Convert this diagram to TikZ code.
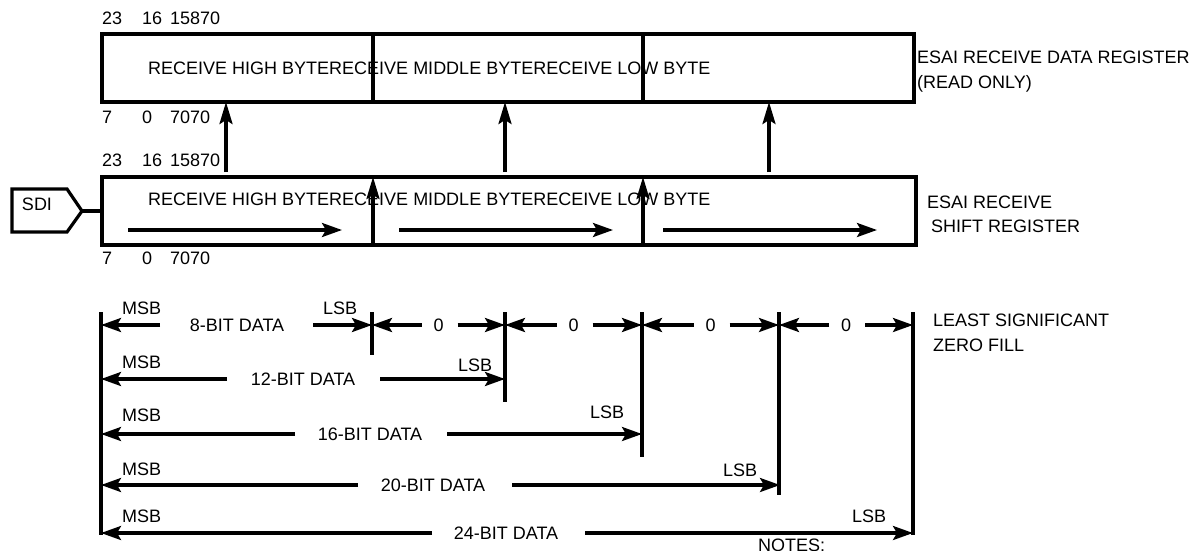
\documentclass[tikz,border=0pt]{standalone}
\usepackage{fontspec}
\setmainfont{Liberation Sans}
\usetikzlibrary{arrows.meta}
\begin{document}
\begin{tikzpicture}[x=1pt,y=-1pt,
  txt/.style={font=\fontsize{18}{20}\selectfont, inner sep=0pt, anchor=west, text height=12.9pt, text depth=0pt},
  ctxt/.style={txt, anchor=center},
  regbox/.style={draw, line width=3.4pt, minimum height=68pt, inner sep=0pt},
  conn/.style={line width=3.2pt},
  arr/.style={conn, -{Stealth[length=20pt,width=14pt,inset=4pt]}},
  uparr/.style={conn, -{Stealth[length=22pt,width=13pt,inset=4pt]}}]
\useasboundingbox (0,0) rectangle (1199,550);
\clip (0,0) rectangle (1199,550);

% ---------- receive data register ----------
\node[regbox, minimum width=812pt] (rdr) at (508,68) {};
\coordinate (d1t) at (373,34); \coordinate (d1b) at (373,102);
\coordinate (d2t) at (643,34); \coordinate (d2b) at (643,102);
\draw[conn] (d1t) -- (d1b);
\draw[conn] (d2t) -- (d2b);
\node[txt] (rdrtext) at (148,68) {RECEIVE HIGH BYTERECEIVE MIDDLE BYTERECEIVE LOW BYTE};
\node[txt] (ta23) at (102,18) {23};
\node[txt] (ta16) at (142,18) {16};
\node[txt] (ta15870) at (170,18) {15870};
\node[txt] (ba7) at (102,117) {7};
\node[txt] (ba0) at (142,117) {0};
\node[txt] (ba7070) at (170,117) {7070};
\node[txt] (rdrname1) at (917,57) {ESAI RECEIVE DATA REGISTER};
\node[txt] (rdrname2) at (917,82) {(READ ONLY)};

% ---------- receive shift register ----------
\node[regbox, minimum width=814pt] (rsr) at (509,211) {};
\coordinate (s1b) at (373,245); \coordinate (s1t) at (373,177);
\coordinate (s2b) at (643,245); \coordinate (s2t) at (643,177);
\node[txt] (rsrtext) at (148,199) {RECEIVE HIGH BYTERECEIVE MIDDLE BYTERECEIVE LOW BYTE};
\draw[uparr] (s1b) -- (s1t);
\draw[uparr] (s2b) -- (s2t);
\node[txt] (tb23) at (102,160) {23};
\node[txt] (tb16) at (142,160) {16};
\node[txt] (tb15870) at (170,160) {15870};
\node[txt] (bb7) at (102,258) {7};
\node[txt] (bb0) at (142,258) {0};
\node[txt] (bb7070) at (170,258) {7070};
\node[txt] (rsrname1) at (927,202) {ESAI RECEIVE};
\node[txt] (rsrname2) at (931,226) {SHIFT REGISTER};

% shift arrows inside
\coordinate (h1s) at (128,230); \coordinate (h1e) at (342,230);
\coordinate (h2s) at (399,230); \coordinate (h2e) at (613,230);
\coordinate (h3s) at (663,230); \coordinate (h3e) at (877,230);
\draw[arr] (h1s) -- (h1e);
\draw[arr] (h2s) -- (h2e);
\draw[arr] (h3s) -- (h3e);

% transfer arrows
\coordinate (u1s) at (226,172); \coordinate (u1e) at (226,102);
\coordinate (u2s) at (505,172); \coordinate (u2e) at (505,102);
\coordinate (u3s) at (769,172); \coordinate (u3e) at (769,102);
\draw[uparr] (u1s) -- (u1e);
\draw[uparr] (u2s) -- (u2e);
\draw[uparr] (u3s) -- (u3e);

% SDI input
\node[ctxt] (sdi) at (37,204) {SDI};
\draw[line width=3.2pt, line join=miter] (12,189) -- (67,189) -- (82,211) -- (67,232) -- (12,232) -- cycle;
\coordinate (sdip) at (82,211);
\draw[conn] (sdip) -- (rsr.west);

% ---------- data format section ----------
\coordinate (v0t) at (101,312); \coordinate (v0b) at (101,535);
\coordinate (v1t) at (372,312); \coordinate (v1b) at (372,355);
\coordinate (v2t) at (505,312); \coordinate (v2b) at (505,402);
\coordinate (v3t) at (642,312); \coordinate (v3b) at (642,457);
\coordinate (v4t) at (779,312); \coordinate (v4b) at (779,495);
\coordinate (v5t) at (913,312); \coordinate (v5b) at (913,535);
\foreach \v in {0,...,5} {\draw[conn] (v\v t) -- (v\v b);}

% row 1: 8-bit
\node[txt] (msb1) at (122,308) {MSB};
\node[txt] (lsb1) at (323,308) {LSB};
\node[ctxt] (dat8) at (237,325) {8-BIT DATA};
\coordinate (r1l) at (160,325); \coordinate (r1a) at (101,325);
\coordinate (r1r) at (313,325); \coordinate (r1b) at (372,325);
\draw[arr] (r1l) -- (r1a);
\draw[arr] (r1r) -- (r1b);
% zero fills
\foreach \a/\b/\n in {372/505/1, 505/642/2, 642/779/3, 779/913/4} {
  \node[ctxt] (zero\n) at ({(\a+\b)/2},325) {0};
  \coordinate (zl\n) at ({(\a+\b)/2-17},325);
  \coordinate (za\n) at (\a,325);
  \coordinate (zr\n) at ({(\a+\b)/2+19},325);
  \coordinate (zb\n) at (\b,325);
  \draw[arr] (zl\n) -- (za\n);
  \draw[arr] (zr\n) -- (zb\n);
}
\node[txt] (lszf1) at (933,320) {LEAST SIGNIFICANT};
\node[txt] (lszf2) at (933,345) {ZERO FILL};

% row 2: 12-bit
\node[txt] (msb2) at (122,362) {MSB};
\node[txt] (lsb2) at (458,365) {LSB};
\node[ctxt] (dat12) at (303,379) {12-BIT DATA};
\coordinate (r2l) at (227,379); \coordinate (r2a) at (101,379);
\coordinate (r2r) at (380,379); \coordinate (r2b) at (505,379);
\draw[arr] (r2l) -- (r2a);
\draw[arr] (r2r) -- (r2b);

% row 3: 16-bit
\node[txt] (msb3) at (122,415) {MSB};
\node[txt] (lsb3) at (590,412) {LSB};
\node[ctxt] (dat16) at (370,434) {16-BIT DATA};
\coordinate (r3l) at (295,434); \coordinate (r3a) at (101,434);
\coordinate (r3r) at (447,434); \coordinate (r3b) at (642,434);
\draw[arr] (r3l) -- (r3a);
\draw[arr] (r3r) -- (r3b);

% row 4: 20-bit
\node[txt] (msb4) at (122,469) {MSB};
\node[txt] (lsb4) at (723,470) {LSB};
\node[ctxt] (dat20) at (433,485) {20-BIT DATA};
\coordinate (r4l) at (358,485); \coordinate (r4a) at (101,485);
\coordinate (r4r) at (512,485); \coordinate (r4b) at (780,485);
\draw[arr] (r4l) -- (r4a);
\draw[arr] (r4r) -- (r4b);

% row 5: 24-bit
\node[txt] (msb5) at (122,516) {MSB};
\node[txt] (lsb5) at (852,516) {LSB};
\node[ctxt] (dat24) at (506,533) {24-BIT DATA};
\coordinate (r5l) at (432,533); \coordinate (r5a) at (101,533);
\coordinate (r5r) at (585,533); \coordinate (r5b) at (913,533);
\draw[arr] (r5l) -- (r5a);
\draw[arr] (r5r) -- (r5b);

\node[txt] (notes) at (758,545) {NOTES:};
\end{tikzpicture}
\end{document}
